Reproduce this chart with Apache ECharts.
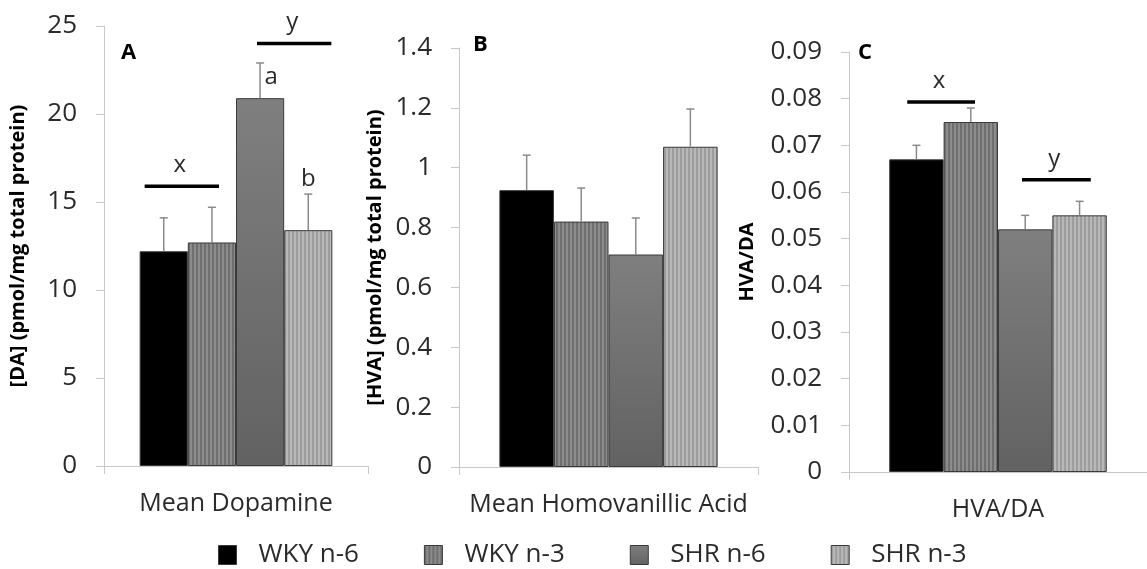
<!DOCTYPE html>
<html>
<head>
<meta charset="utf-8">
<script src="https://cdn.jsdelivr.net/npm/echarts@6/dist/echarts.min.js"></script>
<style>
html,body{margin:0;padding:0;background:#fff;}
#chart{width:1147px;height:569px;}
</style>
</head>
<body>
<div id="chart"></div>
<script>
// ---------- DATA ----------
const seriesNames = ['WKY n-6', 'WKY n-3', 'SHR n-6', 'SHR n-3'];
const catDA = ['Mean Dopamine'];
const catHVA = ['Mean Homovanillic Acid'];
const catRatio = ['HVA/DA'];

const daMean = [12.2, 12.7, 20.9, 13.4];
const daErr = [1.9, 2.0, 2.0, 2.05];
const daLetters = ['', '', 'a', 'b'];
const daBracketBars = [[0, 1], [2, 3]];
const daBracketLevels = [15.9, 24.0];
const daBracketLabels = ['x', 'y'];

const hvaMean = [0.925, 0.82, 0.71, 1.07];
const hvaErr = [0.117, 0.112, 0.122, 0.126];

const ratioMean = [0.067, 0.075, 0.052, 0.055];
const ratioErr = [0.003, 0.003, 0.003, 0.003];
const ratioBracketBars = [[0, 1], [2, 3]];
const ratioBracketLevels = [0.0793, 0.0626];
const ratioBracketLabels = ['x', 'y'];

const yTicksDA = {min: 0, max: 25, interval: 5};
const yTicksHVA = {min: 0, max: 1.4, interval: 0.2};
const yTicksRatio = {min: 0, max: 0.09, interval: 0.01};

// ---------- STYLE ----------
const FONT = 'Open Sans';
const TXT = '#2b2b2b';
const GAP = 0.27;
const letterPlacement = ['', '', 'right', 'top'];
const daBracketInsets = [[5, 17], [21, 1]];
const ratioBracketInsets = [[18, 23], [24, 16]];

function stripePattern(base, stripe, period, sw) {
  const c = document.createElement('canvas');
  c.width = period; c.height = 4;
  const g = c.getContext('2d');
  g.fillStyle = base; g.fillRect(0, 0, period, 4);
  g.fillStyle = stripe; g.fillRect(0, 0, sw, 4);
  return {image: c, repeat: 'repeat'};
}
const fills = [
  '#000000',
  stripePattern('#8c8c8c', '#6e6e6e', 4, 2),
  {type: 'linear', x: 0, y: 0, x2: 0, y2: 1, colorStops: [{offset: 0, color: '#7f7f7f'}, {offset: 1, color: '#626262'}]},
  stripePattern('#b8b8b8', '#9d9d9d', 4, 2)
];

const chart = echarts.init(document.getElementById('chart'), null, {renderer: 'canvas'});

function yAxis(gi, t, name, gap, fmt) {
  return {
    type: 'value', gridIndex: gi, min: t.min, max: t.max, interval: t.interval,
    name: name, nameLocation: 'middle', nameGap: gap,
    nameTextStyle: {fontFamily: FONT, fontSize: 20, fontWeight: 'bold', color: '#000'},
    axisLine: {show: true, lineStyle: {color: '#c8c8c8', width: 1}},
    axisTick: {show: true, length: 8, lineStyle: {color: '#c8c8c8'}},
    splitLine: {show: false},
    axisLabel: {fontFamily: FONT, fontSize: 26, color: TXT, margin: 27, formatter: fmt}
  };
}
function xAxis(gi, cats) {
  return {
    type: 'category', gridIndex: gi, data: cats,
    axisLine: {show: true, lineStyle: {color: '#c8c8c8', width: 1}},
    axisTick: {show: true, length: 8, lineStyle: {color: '#c8c8c8'}},
    axisLabel: {fontFamily: FONT, fontSize: 25, color: TXT, margin: 25}
  };
}

function barSeries(gi, means) {
  return seriesNames.map((n, i) => ({
    name: n, type: 'bar', xAxisIndex: gi, yAxisIndex: gi,
    data: [means[i]], barGap: '0%', barCategoryGap: (GAP * 100) + '%',
    itemStyle: {color: fills[i], borderColor: '#3a3a3a', borderWidth: 1},
    emphasis: {disabled: true}, silent: true
  }));
}

function barCenter(api, idx, val) {
  const p = api.coord([0, val]);
  const band = api.size([1, 0])[0];
  const bw = band * (1 - GAP) / 4;
  return {x: p[0] + (idx - 1.5) * bw, y: p[1], bw: bw, left: p[0] - 2 * bw};
}

function errSeries(gi, means, errs, letters) {
  return {
    type: 'custom', name: 'err' + gi, xAxisIndex: gi, yAxisIndex: gi, silent: true, z: 5,
    data: means.map((m, i) => [0, m, errs[i], i]),
    encode: {x: 0, y: 1},
    renderItem: function (params, api) {
      const i = api.value(3);
      const m = api.value(1), e = api.value(2);
      const b = barCenter(api, i, m);
      const top = api.coord([0, m + e])[1];
      const cap = 4;
      const children = [
        {type: 'line', shape: {x1: b.x, y1: b.y, x2: b.x, y2: top}, style: {stroke: '#8a8a8a', lineWidth: 1.5}},
        {type: 'line', shape: {x1: b.x - cap, y1: top, x2: b.x + cap, y2: top}, style: {stroke: '#8a8a8a', lineWidth: 1.5}}
      ];
      const L = letters ? letters[i] : '';
      if (L) {
        const pl = letterPlacement[i];
        children.push({type: 'text', x: pl === 'right' ? b.x + 11 : b.x, y: pl === 'right' ? top + 14 : top - 15,
          style: {text: L, fontFamily: FONT, fontSize: 24, fill: TXT, align: 'center', verticalAlign: 'middle'}});
      }
      return {type: 'group', children: children};
    }
  };
}

function bracketSeries(gi, bars, levels, labels, insets) {
  return {
    type: 'custom', name: 'br' + gi, xAxisIndex: gi, yAxisIndex: gi, silent: true, z: 6,
    data: levels.map((lv, k) => [0, lv, k]),
    encode: {x: 0, y: 1},
    renderItem: function (params, api) {
      const k = api.value(2);
      const lv = api.value(1);
      const b = barCenter(api, 0, lv);
      const x1 = b.left + bars[k][0] * b.bw + insets[k][0];
      const x2 = b.left + (bars[k][1] + 1) * b.bw - insets[k][1];
      return {type: 'group', children: [
        {type: 'line', shape: {x1: x1, y1: b.y, x2: x2, y2: b.y}, style: {stroke: '#000', lineWidth: 3.5}},
        {type: 'text', x: (x1 + x2) / 2 - 2, y: b.y - 21,
          style: {text: labels[k], fontFamily: FONT, fontSize: 24, fill: TXT, align: 'center', verticalAlign: 'middle'}}
      ]};
    }
  };
}

const fmt = v => String(+v.toFixed(3));

const option = {
  animation: false,
  backgroundColor: '#fff',
  grid: [
    {left: 104, top: 26, width: 264, height: 440},
    {left: 459, top: 48, width: 299, height: 419},
    {left: 849, top: 52, width: 305, height: 420}
  ],
  xAxis: [xAxis(0, catDA), xAxis(1, catHVA), xAxis(2, catRatio)],
  yAxis: [
    yAxis(0, yTicksDA, '[DA] (pmol/mg total protein)', 76, fmt),
    yAxis(1, yTicksHVA, '[HVA] (pmol/mg total protein)', 74, fmt),
    yAxis(2, yTicksRatio, 'HVA/DA', 92, fmt)
  ],
  legend: {
    data: seriesNames, left: 218, top: 542, padding: 0, itemWidth: 18, itemHeight: 19, itemGap: 65,
    icon: 'rect', selectedMode: false,
    itemStyle: {borderColor: '#3a3a3a', borderWidth: 1},
    textStyle: {fontFamily: FONT, fontSize: 26, color: TXT, padding: [0, 0, 0, 17]}
  },
  graphic: [
    {type: 'text', left: 121, top: 42, style: {text: 'A', fontFamily: FONT, fontSize: 22, fontWeight: 'bold', fill: '#000'}},
    {type: 'text', left: 473, top: 34, style: {text: 'B', fontFamily: FONT, fontSize: 22, fontWeight: 'bold', fill: '#000'}},
    {type: 'text', left: 858, top: 42, style: {text: 'C', fontFamily: FONT, fontSize: 22, fontWeight: 'bold', fill: '#000'}}
  ],
  series: [].concat(
    barSeries(0, daMean), barSeries(1, hvaMean), barSeries(2, ratioMean),
    [errSeries(0, daMean, daErr, daLetters), errSeries(1, hvaMean, hvaErr, null), errSeries(2, ratioMean, ratioErr, null),
     bracketSeries(0, daBracketBars, daBracketLevels, daBracketLabels, daBracketInsets),
     bracketSeries(2, ratioBracketBars, ratioBracketLevels, ratioBracketLabels, ratioBracketInsets)]
  )
};
chart.setOption(option);
</script>
</body>
</html>
